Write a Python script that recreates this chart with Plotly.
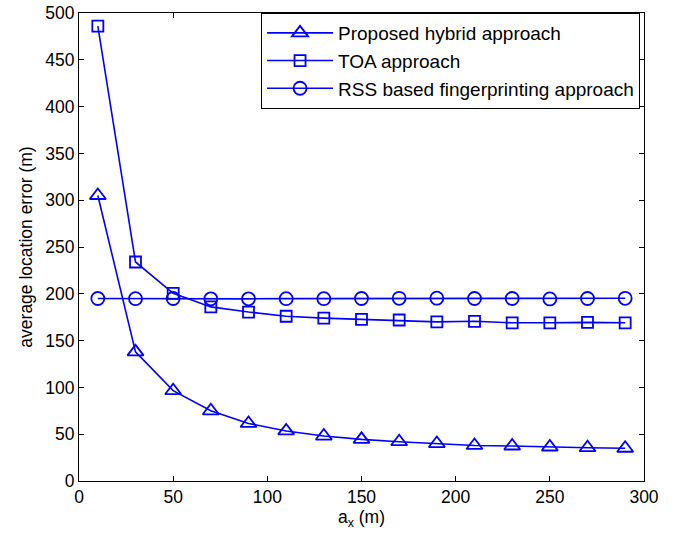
import plotly.graph_objects as go

x_vals = [10, 30, 50, 70, 90, 110, 130, 150, 170, 190, 210, 230, 250, 270, 290]
hybrid = [305, 138, 96.5, 75, 61.5, 53.5, 48, 44.5, 42, 40, 38, 37.4, 36.3, 35.6, 35]
toa = [486, 234, 200.5, 186, 180.5, 176, 174, 172.7, 172, 170, 170.6, 169, 169, 169.5, 169]
rss = [195, 194.8, 195, 194.6, 194.6, 194.8, 194.8, 195, 195.2, 195.3, 195, 195, 194.5, 195, 195.2]
names = ["Proposed hybrid approach", "TOA approach", "RSS based fingerprinting approach"]
symbols = ["triangle-up-open", "square-open", "circle-open"]
sizes = [14, 11, 13]

fig = go.Figure()
for ys, nm, sym, sz in zip([hybrid, toa, rss], names, symbols, sizes):
    fig.add_trace(go.Scatter(
        x=x_vals, y=ys, name=nm, mode="lines+markers",
        line=dict(color="#0000ff", width=1.6),
        marker=dict(symbol=sym, size=sz, color="#0000ff", line=dict(width=1.8, color="#0000ff")),
    ))

axis_common = dict(
    showline=True, linecolor="black", linewidth=1, mirror="ticks",
    ticks="inside", ticklen=5, tickcolor="black", showgrid=False, zeroline=False,
    automargin=False,
    tickfont=dict(family="Liberation Sans, Arial", size=17.5, color="black"),
)
fig.update_layout(
    width=680, height=538,
    margin=dict(l=79, r=36, t=13, b=57),
    paper_bgcolor="white", plot_bgcolor="white",
    font=dict(family="Liberation Sans, Arial", size=17.5, color="black"),
    xaxis=dict(range=[0, 300], dtick=50, title=dict(text="a<sub>x</sub> (m)", standoff=4,
               font=dict(size=17.5)), **axis_common),
    yaxis=dict(range=[0, 500], dtick=50, title=dict(text="average location error (m)", standoff=8,
               font=dict(size=17.5)), **axis_common),
    legend=dict(x=0.993, xanchor="right", y=1, yanchor="top", bordercolor="black", borderwidth=1,
                bgcolor="white", font=dict(size=19, color="black"), itemwidth=66),
)
fig.write_html("out.html")
